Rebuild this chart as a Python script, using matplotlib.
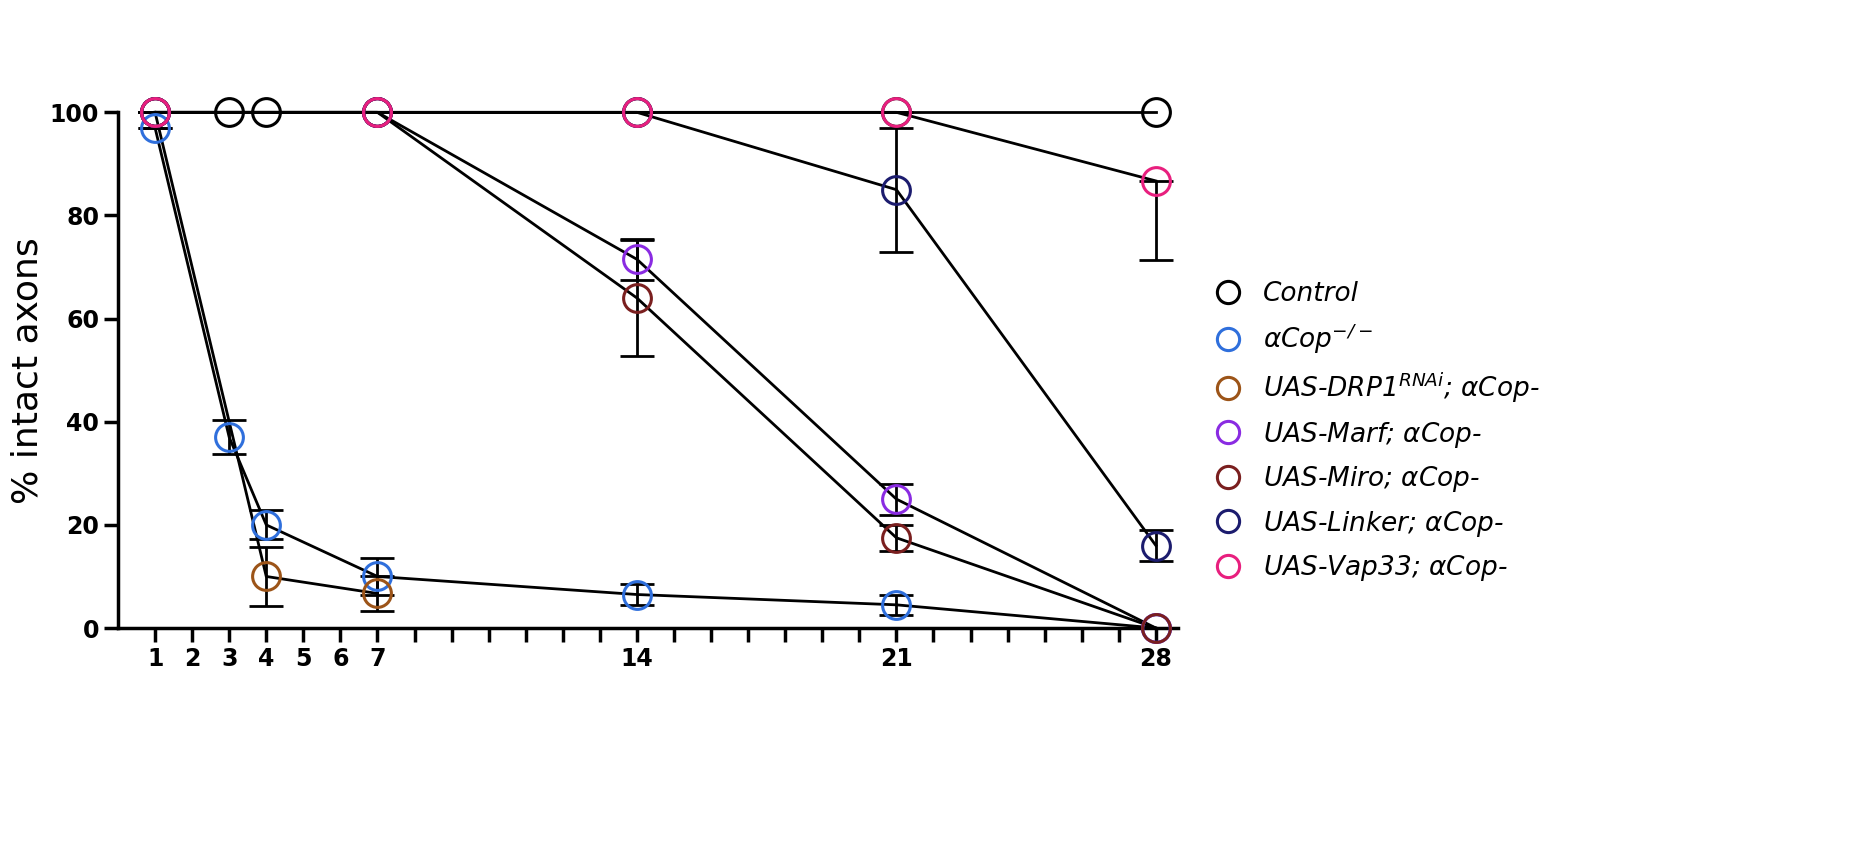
import matplotlib.pyplot as plt

days = [1, 2, 3, 4, 5, 6, 7, 14, 21, 28]

ctrl_x = [1, 3, 4, 7, 14, 21, 28]
ctrl_y = [100, 100, 100, 100, 100, 100, 100]

acop_x = [1, 3, 4, 7, 14, 21, 28]
acop_y = [97, 37, 20, 10, 6.5, 4.5, 0]
acop_e = [0, 3.3, 2.8, 3.6, 2.0, 2.0, 0]

drp_x = [1, 4, 7]
drp_y = [100, 10, 6.7]
drp_e = [0, 5.8, 3.4]

marf_x = [1, 7, 14, 21, 28]
marf_y = [100, 100, 71.5, 25, 0]
marf_e = [0, 0, 4.0, 3.0, 0]

miro_x = [1, 7, 14, 21, 28]
miro_y = [100, 100, 64, 17.5, 0]
miro_e = [0, 0, 11.2, 2.5, 0]

linker_x = [1, 7, 14, 21, 28]
linker_y = [100, 100, 100, 85, 16]
linker_e = [0, 0, 0, 12, 3]

vap_x = [1, 7, 14, 21, 28]
vap_y = [100, 100, 100, 100, 86.7]
vap_e_lo = [0, 0, 0, 0, 15.3]
vap_e_hi = [0, 0, 0, 0, 0]

series = [
    ("Control", ctrl_x, ctrl_y, None, "black"),
    (r"$\alpha$Cop$^{-/-}$", acop_x, acop_y, acop_e, "#2f6fdc"),
    (r"UAS-DRP1$^{RNAi}$; $\alpha$Cop-", drp_x, drp_y, drp_e, "#9c5418"),
    (r"UAS-Marf; $\alpha$Cop-", marf_x, marf_y, marf_e, "#8a2be2"),
    (r"UAS-Miro; $\alpha$Cop-", miro_x, miro_y, miro_e, "#7a1f1f"),
    (r"UAS-Linker; $\alpha$Cop-", linker_x, linker_y, linker_e, "#1c1c6e"),
    (r"UAS-Vap33; $\alpha$Cop-", vap_x, vap_y, [vap_e_lo, vap_e_hi], "#e81f7e"),
]

plt.rcParams['mathtext.fontset'] = 'custom'
plt.rcParams['mathtext.it'] = 'DejaVu Sans:italic'
plt.rcParams['mathtext.rm'] = 'DejaVu Sans:italic'

fig = plt.figure(figsize=(18.73, 8.51), dpi=100)
ax = fig.add_axes([0.063, 0.262, 0.566, 0.606])

for name, x, y, e, c in series:
    if e is not None:
        ax.errorbar(x, y, yerr=e, fmt="none", ecolor="black", elinewidth=2,
                    capsize=12, capthick=2, clip_on=False, zorder=2)
    ax.plot(x, y, color="black", lw=2, zorder=2, clip_on=False)
    ax.plot(x, y, "o", ms=20, mfc="none", mec=c, mew=2.2, ls="none",
            label=name, clip_on=False, zorder=3)

ax.set_xlim(0, 28.6)
ax.set_ylim(0, 100)
ax.set_xticks(days)
ax.set_xticks(range(1, 29), minor=True)
ax.set_yticks([0, 20, 40, 60, 80, 100])
ax.tick_params(axis="both", which="major", labelsize=17, width=2.5, length=10)
ax.tick_params(axis="x", which="minor", width=2.5, length=10)
for lab in ax.get_xticklabels() + ax.get_yticklabels():
    lab.set_fontweight("bold")
for s in ["top", "right"]:
    ax.spines[s].set_visible(False)
for s in ["left", "bottom"]:
    ax.spines[s].set_linewidth(2.5)
ax.set_ylabel("% intact axons", fontsize=26, labelpad=4)

ax.legend(loc="center left", bbox_to_anchor=(1.0, 0.38), frameon=False,
          prop={"size": 19, "style": "italic"}, handletextpad=0.3,
          labelspacing=0.55, markerscale=0.8)

fig.savefig("out.png", dpi=100)
